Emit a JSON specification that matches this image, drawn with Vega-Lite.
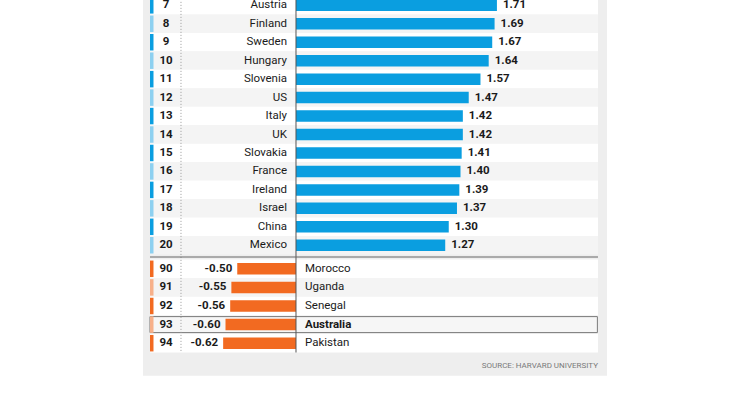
{
  "$schema": "https://vega.github.io/schema/vega-lite/v6.json",
  "width": 741,
  "height": 399,
  "padding": 0,
  "autosize": {"type": "none"},
  "background": "#ffffff",
  "locale": {"number": {"decimal": ".", "thousands": ",", "grouping": [3], "currency": ["$", ""], "minus": "-"}},
  "config": {"view": {"stroke": null}, "text": {"font": "Roboto", "fontSize": 11.5, "baseline": "middle", "color": "#1a1a1a"}},
  "data": {"values": [
    {"rank": 7, "country": "Austria", "value": 1.71},
    {"rank": 8, "country": "Finland", "value": 1.69},
    {"rank": 9, "country": "Sweden", "value": 1.67},
    {"rank": 10, "country": "Hungary", "value": 1.64},
    {"rank": 11, "country": "Slovenia", "value": 1.57},
    {"rank": 12, "country": "US", "value": 1.47},
    {"rank": 13, "country": "Italy", "value": 1.42},
    {"rank": 14, "country": "UK", "value": 1.42},
    {"rank": 15, "country": "Slovakia", "value": 1.41},
    {"rank": 16, "country": "France", "value": 1.40},
    {"rank": 17, "country": "Ireland", "value": 1.39},
    {"rank": 18, "country": "Israel", "value": 1.37},
    {"rank": 19, "country": "China", "value": 1.30},
    {"rank": 20, "country": "Mexico", "value": 1.27},
    {"rank": 90, "country": "Morocco", "value": -0.50},
    {"rank": 91, "country": "Uganda", "value": -0.55},
    {"rank": 92, "country": "Senegal", "value": -0.56},
    {"rank": 93, "country": "Australia", "value": -0.60},
    {"rank": 94, "country": "Pakistan", "value": -0.62}
  ]},
  "layer": [
    {
      "data": {"values": [{}]},
      "mark": {"type": "rect", "color": "#eeeeee"},
      "encoding": {
        "x": {"datum": -1.302, "type": "quantitative", "scale": {"domain": [-2.5191, 3.7872], "nice": false, "zero": false, "padding": 0}, "axis": null},
        "x2": {"datum": 2.647},
        "y": {"datum": 6.0, "type": "quantitative", "scale": {"domain": [6.5, 20.5, 89.5, 94.5], "range": [-3.9, 254.5, 259.5, 352.5], "nice": false, "zero": false, "padding": 0}, "axis": null},
        "y2": {"datum": 95.75}
      }
    },
    {
      "mark": {"type": "bar", "orient": "horizontal", "size": 18.6},
      "encoding": {
        "x": {"datum": -1.2426, "type": "quantitative"},
        "x2": {"datum": 2.570},
        "y": {"field": "rank", "type": "quantitative"},
        "color": {"condition": {"test": "datum.value > 0 ? datum.rank % 2 == 0 : datum.rank % 2 == 1", "value": "#f4f4f4"}, "value": "#ffffff"}
      }
    },
    {
      "transform": [{"filter": "datum.country == 'Australia'"}],
      "mark": {"type": "bar", "orient": "horizontal", "size": 16, "fill": "#f6f6f6", "stroke": "#7a7a7a", "strokeWidth": 1},
      "encoding": {
        "x": {"datum": -1.2426, "type": "quantitative"},
        "x2": {"datum": 2.565},
        "y": {"field": "rank", "type": "quantitative"}
      }
    },
    {
      "mark": {"type": "bar", "orient": "horizontal", "size": 16.5},
      "encoding": {
        "x": {"datum": -1.2426, "type": "quantitative"},
        "x2": {"datum": -1.2128},
        "y": {"field": "rank", "type": "quantitative"},
        "color": {"condition": [
          {"test": "datum.value > 0 && datum.rank % 2 == 0", "value": "#8dd0f0"},
          {"test": "datum.value > 0", "value": "#0a9ee0"},
          {"test": "datum.rank % 2 == 1", "value": "#f7b08a"}
        ], "value": "#f26a21"}
      }
    },
    {
      "data": {"values": [{}]},
      "mark": {"type": "rule", "color": "#9a9a9a", "strokeDash": [1, 2], "strokeWidth": 1},
      "encoding": {
        "x": {"datum": -0.9787, "type": "quantitative"},
        "y": {"datum": 6.0, "type": "quantitative"},
        "y2": {"datum": 94.5}
      }
    },
    {
      "mark": {"type": "bar", "orient": "horizontal", "size": 11.5},
      "encoding": {
        "x": {"field": "value", "type": "quantitative"},
        "x2": {"datum": 0},
        "y": {"field": "rank", "type": "quantitative"},
        "color": {"condition": {"test": "datum.value > 0", "value": "#0a9ee0"}, "value": "#f26a21"}
      }
    },
    {
      "data": {"values": [{}]},
      "mark": {"type": "rule", "color": "#555555", "strokeWidth": 1},
      "encoding": {
        "x": {"datum": 0, "type": "quantitative"},
        "y": {"datum": 6.0, "type": "quantitative"},
        "y2": {"datum": 94.5}
      }
    },
    {
      "data": {"values": [{}]},
      "mark": {"type": "rule", "color": "#666666", "strokeWidth": 1, "yOffset": -2.5},
      "encoding": {
        "x": {"datum": -1.2426, "type": "quantitative"},
        "x2": {"datum": 2.570},
        "y": {"datum": 89.5, "type": "quantitative"}
      }
    },
    {
      "mark": {"type": "text", "align": "center", "fontWeight": "bold"},
      "encoding": {
        "x": {"datum": -1.1064, "type": "quantitative"},
        "y": {"field": "rank", "type": "quantitative"},
        "text": {"field": "rank", "type": "quantitative"}
      }
    },
    {
      "transform": [{"filter": "datum.value > 0"}],
      "mark": {"type": "text", "align": "right", "dx": -9},
      "encoding": {
        "x": {"datum": 0, "type": "quantitative"},
        "y": {"field": "rank", "type": "quantitative"},
        "text": {"field": "country"}
      }
    },
    {
      "transform": [{"filter": "datum.value < 0 && datum.country != 'Australia'"}],
      "mark": {"type": "text", "align": "left", "dx": 9},
      "encoding": {
        "x": {"datum": 0, "type": "quantitative"},
        "y": {"field": "rank", "type": "quantitative"},
        "text": {"field": "country"}
      }
    },
    {
      "transform": [{"filter": "datum.country == 'Australia'"}],
      "mark": {"type": "text", "align": "left", "dx": 9, "fontWeight": "bold"},
      "encoding": {
        "x": {"datum": 0, "type": "quantitative"},
        "y": {"field": "rank", "type": "quantitative"},
        "text": {"field": "country"}
      }
    },
    {
      "transform": [{"filter": "datum.value > 0"}],
      "mark": {"type": "text", "align": "left", "dx": 6, "fontWeight": "bold"},
      "encoding": {
        "x": {"field": "value", "type": "quantitative"},
        "y": {"field": "rank", "type": "quantitative"},
        "text": {"field": "value", "type": "quantitative", "format": ".2f"}
      }
    },
    {
      "transform": [{"filter": "datum.value < 0"}],
      "mark": {"type": "text", "align": "right", "dx": -5, "fontWeight": "bold", "text": {"expr": "replace(format(datum.value, '.2f'), '\u2212', '-')"}},
      "encoding": {
        "x": {"field": "value", "type": "quantitative"},
        "y": {"field": "rank", "type": "quantitative"}
      }
    },
    {
      "data": {"values": [{"source": "SOURCE: HARVARD UNIVERSITY"}]},
      "mark": {"type": "text", "align": "right", "fontSize": 8, "color": "#7a7a7a"},
      "encoding": {
        "x": {"datum": 2.570, "type": "quantitative"},
        "y": {"datum": 95.25, "type": "quantitative"},
        "text": {"field": "source"}
      }
    }
  ]
}
